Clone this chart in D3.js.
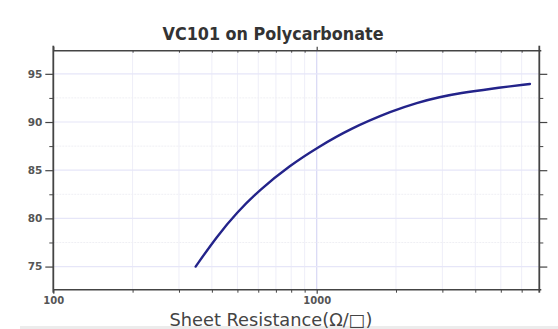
<!DOCTYPE html>
<html><head><meta charset="utf-8">
<script src="https://cdn.jsdelivr.net/npm/d3@7"></script>
<style>body{margin:0;background:#fff}svg{display:block}</style>
</head><body>
<script>
const resistance = [347, 417, 497, 609, 792, 1000, 1336, 1955, 2398, 2939, 3500, 4550, 6450];
const transmission = [75, 78.1, 80.6, 83.0, 85.5, 87.3, 89.3, 91.2, 92.0, 92.6, 93.0, 93.45, 93.95];
const yTicks = [75, 80, 85, 90, 95];
const yMinorTicks = [77.5, 82.5, 87.5, 92.5];
const xTickLabels = [100, 1000];
const xMinorTicks = [200,300,400,500,600,700,800,900,2000,3000,4000,5000,6000];
const title = "VC101 on Polycarbonate";
const xLabel = "Sheet Resistance(\u03A9/\u25A1)";

const W = 558, H = 329;
const m = {l: 53.3, r: 539.3, t: 50.7, b: 289.7};
const svg = d3.select("body").append("svg").attr("width", W).attr("height", H);
const x = d3.scaleLog().domain([100, 7000]).range([m.l, m.r]);
const y = d3.scaleLinear().domain([72.6, 97.4]).range([m.b, m.t]);

svg.append("rect").attr("x", 20).attr("y", 326).attr("width", W - 20).attr("height", 3).attr("fill", "#ececec");

// grid
const g = svg.append("g");
g.selectAll(".vg").data(xMinorTicks).join("line")
  .attr("x1", d => x(d)).attr("x2", d => x(d)).attr("y1", m.t).attr("y2", m.b)
  .attr("stroke", "#eeeef8").attr("stroke-width", 1);
g.append("line").attr("x1", x(1000)).attr("x2", x(1000)).attr("y1", m.t).attr("y2", m.b)
  .attr("stroke", "#d8d8f4").attr("stroke-width", 1.2);
g.selectAll(".hg").data(yTicks).join("line")
  .attr("x1", m.l).attr("x2", m.r).attr("y1", d => y(d)).attr("y2", d => y(d))
  .attr("stroke", "#e6e6f8").attr("stroke-width", 1.2);
g.selectAll(".hm").data(yMinorTicks).join("line")
  .attr("x1", m.l).attr("x2", m.r).attr("y1", d => y(d)).attr("y2", d => y(d))
  .attr("stroke", "#efeff4").attr("stroke-width", 1).attr("stroke-dasharray", "2,1");

// axes
const ac = "#444";
const yl = svg.append("g").attr("transform", `translate(${m.l},0)`)
  .call(d3.axisLeft(y).tickValues(yTicks).tickSize(8).tickFormat(d3.format("d")));
yl.select(".domain").remove();
yl.selectAll(".tick line").attr("stroke", ac).attr("stroke-width", 1.2);
yl.selectAll(".tick text").attr("fill", "#555").attr("font-family", "DejaVu Sans").attr("font-size", 10.5).attr("font-weight", "bold").attr("x", -11);
const ylm = svg.append("g").attr("transform", `translate(${m.l},0)`)
  .call(d3.axisLeft(y).tickValues(yMinorTicks).tickSize(4).tickFormat(""));
ylm.select(".domain").remove();
ylm.selectAll(".tick line").attr("stroke", ac);

const yr = svg.append("g").attr("transform", `translate(${m.r},0)`)
  .call(d3.axisRight(y).tickValues(yTicks).tickSize(8).tickFormat(""));
yr.select(".domain").remove();
yr.selectAll(".tick line").attr("stroke", ac).attr("stroke-width", 1.2);
const yrm = svg.append("g").attr("transform", `translate(${m.r},0)`)
  .call(d3.axisRight(y).tickValues(yMinorTicks).tickSize(4).tickFormat(""));
yrm.select(".domain").remove();
yrm.selectAll(".tick line").attr("stroke", ac);

const xb = svg.append("g").attr("transform", `translate(0,${m.b})`)
  .call(d3.axisBottom(x).tickValues(xTickLabels).tickSize(4).tickFormat(d3.format("d")));
xb.select(".domain").remove();
xb.selectAll(".tick line").attr("stroke", ac).attr("stroke-width", 1.2);
xb.selectAll(".tick text").attr("fill", "#555").attr("font-family", "DejaVu Sans").attr("font-size", 10).attr("font-weight", "bold").attr("y", 7);
const xbm = svg.append("g").attr("transform", `translate(0,${m.b})`)
  .call(d3.axisBottom(x).tickValues(xMinorTicks).tickSize(3).tickFormat(""));
xbm.select(".domain").remove();
xbm.selectAll(".tick line").attr("stroke", ac);
const xt = svg.append("g").attr("transform", `translate(0,${m.t})`)
  .call(d3.axisTop(x).tickValues(xTickLabels).tickSize(4).tickFormat(""));
xt.select(".domain").remove();
xt.selectAll(".tick line").attr("stroke", ac).attr("stroke-width", 1.2);
const xtm = svg.append("g").attr("transform", `translate(0,${m.t})`)
  .call(d3.axisBottom(x).tickValues(xMinorTicks).tickSize(2).tickFormat(""));
xtm.select(".domain").remove();
xtm.selectAll(".tick line").attr("stroke", ac);

// frame
svg.append("line").attr("x1", m.l).attr("x2", m.r + 2).attr("y1", m.t).attr("y2", m.t).attr("stroke", ac).attr("stroke-width", 1.5);
svg.append("line").attr("x1", m.l).attr("x2", m.r + 2).attr("y1", m.b).attr("y2", m.b).attr("stroke", ac).attr("stroke-width", 1.5);
svg.append("line").attr("x1", m.l).attr("x2", m.l).attr("y1", m.t - 5).attr("y2", m.b + 3).attr("stroke", ac).attr("stroke-width", 1.8);
svg.append("line").attr("x1", m.r).attr("x2", m.r).attr("y1", m.t - 5).attr("y2", m.b + 3).attr("stroke", ac).attr("stroke-width", 1.8);

// curve
const line = d3.line().x(d => x(d[0])).y(d => y(d[1])).curve(d3.curveBasis);
svg.append("path").datum(resistance.map((r, i) => [r, transmission[i]]))
  .attr("d", line).attr("fill", "none").attr("stroke", "#23238a").attr("stroke-width", 2.4).attr("stroke-linecap", "round");

// title & label
svg.append("text").attr("x", 273).attr("y", 40).attr("text-anchor", "middle")
  .attr("font-family", "DejaVu Sans Condensed, DejaVu Sans").attr("font-weight", "bold").attr("font-size", 17).attr("fill", "#333")
  .attr("textLength", 221).attr("lengthAdjust", "spacingAndGlyphs").text(title);
svg.append("text").attr("x", 271).attr("y", 326).attr("text-anchor", "middle")
  .attr("font-family", "DejaVu Sans Condensed, DejaVu Sans").attr("font-size", 17).attr("fill", "#444")
  .attr("textLength", 203).attr("lengthAdjust", "spacingAndGlyphs").text(xLabel);
</script>
</body></html>
